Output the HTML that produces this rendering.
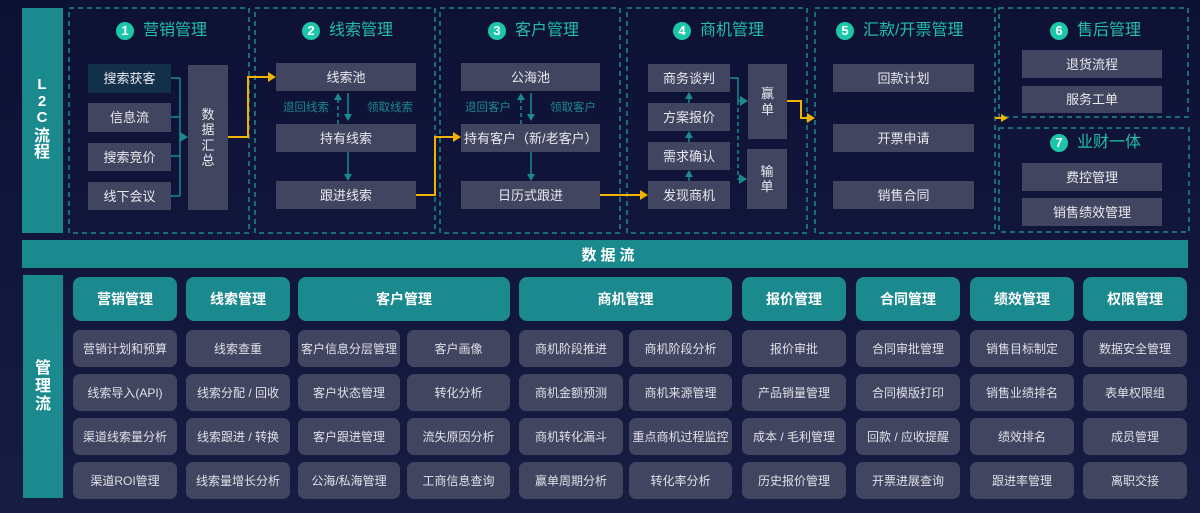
<!DOCTYPE html>
<html><head><meta charset="utf-8">
<style>
*{margin:0;padding:0;box-sizing:border-box}
html,body{width:1200px;height:513px;overflow:hidden}
body{background:linear-gradient(180deg,#0d1134 0%,#11163b 50%,#171c43 100%);font-family:"Liberation Sans","Noto Sans CJK SC",sans-serif;position:relative}
.a{position:absolute}
.b{position:absolute;background:#42455f;color:#e8e8f0;font-size:13px;display:flex;align-items:center;justify-content:center;line-height:1}
.sel{background:#13304a}
.v{flex-direction:column}
.v span{display:block;height:15.5px;line-height:15.5px}
.h{position:absolute;display:flex;align-items:center;height:20px;color:#23bfae;font-size:16px;line-height:1}
.h i{font-style:normal;display:inline-block;width:18px;height:18px;border-radius:50%;background:#1cc6a8;color:#fff;font-weight:bold;font-size:13px;text-align:center;line-height:18px;margin-right:9px;font-family:"Liberation Sans",sans-serif}
.lbl{position:absolute;color:#1b8a8d;font-size:11.5px;line-height:1}
.bar{position:absolute;background:#1b8a8f;color:#fff;font-weight:bold}
.hd{position:absolute;top:277px;height:44px;background:#1b8a8f;border-radius:8px;color:#fff;font-weight:bold;font-size:14px;display:flex;align-items:center;justify-content:center}
.c{position:absolute;height:37px;background:#42455f;border-radius:7px;color:#dfe0ea;font-size:12px;display:flex;align-items:center;justify-content:center;white-space:nowrap}
.vc{position:absolute;color:#fff;font-weight:bold;font-size:16px;width:40px;text-align:center;line-height:1}
</style></head><body>

<svg class="a" style="left:0;top:0" width="1200" height="513">
<g fill="none" stroke="#1b8a8f" stroke-width="1.5" stroke-dasharray="5,4">
<rect x="69" y="8" width="180" height="225"/>
<rect x="255" y="8" width="180" height="225"/>
<rect x="440" y="8" width="180" height="225"/>
<rect x="627" y="8" width="180" height="225"/>
<rect x="815" y="8" width="180" height="225"/>
<rect x="999" y="8" width="189" height="109"/>
<rect x="999" y="128" width="190" height="104"/>
</g>
<!-- section1 teal connectors -->
<g fill="none" stroke="#1b8a8f" stroke-width="1.5">
<path d="M171 78H180M171 117H180M171 156H180M171 196H180M180 78V196"/>
<path d="M348 93V114M348 152V174M531 93V114M531 152V174"/>
<path d="M689 181V176M689 142V137M689 103V98"/>
<path d="M730 78H738V101H741"/>
</g>
<g fill="none" stroke="#1b8a8f" stroke-width="1.5" stroke-dasharray="4,3">
<path d="M338 124V100M521 124V100"/>
<path d="M738 101V179H741"/>
</g>
<g fill="#1b8a8f">
<polygon points="180,132 188,137 180,142"/>
<polygon points="334,100 338,93 342,100"/>
<polygon points="344,114 348,121 352,114"/>
<polygon points="344,174 348,181 352,174"/>
<polygon points="517,100 521,93 525,100"/>
<polygon points="527,114 531,121 535,114"/>
<polygon points="527,174 531,181 535,174"/>
<polygon points="685,177 689,170 693,177"/>
<polygon points="685,138 689,131 693,138"/>
<polygon points="685,99 689,92 693,99"/>
<polygon points="740,96 748,101 740,106"/>
<polygon points="739,174 747,179 739,184"/>
</g>
<g fill="none" stroke="#f0b400" stroke-width="2">
<path d="M228 137H248V77H268"/>
<path d="M416 195H435V137H453"/>
<path d="M600 195H640"/>
<path d="M787 101H801V118H807"/>
<path d="M995 118H1001"/>
</g>
<g fill="#f0b400">
<polygon points="268,72 276,77 268,82"/>
<polygon points="453,132 461,137 453,142"/>
<polygon points="640,190 648,195 640,200"/>
<polygon points="807,113 815,118 807,123"/>
<polygon points="1001,114 1008,118 1001,122"/>
</g>
</svg>

<!-- L2C bar -->
<div class="bar" style="left:22px;top:8px;width:41px;height:225px"></div>
<div class="vc" style="left:22px;top:77px;font-size:15px">L</div>
<div class="vc" style="left:22px;top:94px;font-size:15px">2</div>
<div class="vc" style="left:22px;top:110px;font-size:15px">C</div>
<div class="vc" style="left:22px;top:129px">流</div>
<div class="vc" style="left:22px;top:145px">程</div>

<!-- headings -->
<div class="h" style="left:116px;top:21px"><i>1</i>营销管理</div>
<div class="h" style="left:302px;top:21px"><i>2</i>线索管理</div>
<div class="h" style="left:488px;top:21px"><i>3</i>客户管理</div>
<div class="h" style="left:673px;top:21px"><i>4</i>商机管理</div>
<div class="h" style="left:836px;top:21px"><i>5</i>汇款/开票管理</div>
<div class="h" style="left:1050px;top:21px"><i>6</i>售后管理</div>
<div class="h" style="left:1050px;top:133px"><i>7</i>业财一体</div>

<!-- section 1 -->
<div class="b sel" style="left:88px;top:64px;width:83px;height:29px">搜索获客</div>
<div class="b" style="left:88px;top:103px;width:83px;height:29px">信息流</div>
<div class="b" style="left:88px;top:143px;width:83px;height:28px">搜索竞价</div>
<div class="b" style="left:88px;top:182px;width:83px;height:28px">线下会议</div>
<div class="b v" style="left:188px;top:65px;width:40px;height:145px"><span>数</span><span>据</span><span>汇</span><span>总</span></div>

<!-- section 2 -->
<div class="b" style="left:276px;top:63px;width:140px;height:28px">线索池</div>
<div class="b" style="left:276px;top:124px;width:140px;height:28px">持有线索</div>
<div class="b" style="left:276px;top:181px;width:140px;height:28px">跟进线索</div>
<div class="lbl" style="left:283px;top:103px">退回线索</div>
<div class="lbl" style="left:367px;top:103px">领取线索</div>

<!-- section 3 -->
<div class="b" style="left:461px;top:63px;width:139px;height:28px">公海池</div>
<div class="b" style="left:461px;top:124px;width:139px;height:28px;justify-content:flex-start;padding-left:3px;white-space:nowrap">持有客户（新/老客户）</div>
<div class="b" style="left:461px;top:181px;width:139px;height:28px">日历式跟进</div>
<div class="lbl" style="left:465px;top:103px">退回客户</div>
<div class="lbl" style="left:550px;top:103px">领取客户</div>

<!-- section 4 -->
<div class="b" style="left:648px;top:64px;width:82px;height:28px">商务谈判</div>
<div class="b" style="left:648px;top:103px;width:82px;height:28px">方案报价</div>
<div class="b" style="left:648px;top:142px;width:82px;height:28px">需求确认</div>
<div class="b" style="left:648px;top:181px;width:82px;height:28px">发现商机</div>
<div class="b v" style="left:748px;top:64px;width:39px;height:75px"><span>赢</span><span>单</span></div>
<div class="b v" style="left:747px;top:149px;width:40px;height:60px"><span>输</span><span>单</span></div>

<!-- section 5 -->
<div class="b" style="left:833px;top:64px;width:141px;height:28px">回款计划</div>
<div class="b" style="left:833px;top:124px;width:141px;height:28px">开票申请</div>
<div class="b" style="left:833px;top:181px;width:141px;height:28px">销售合同</div>

<!-- section 6/7 -->
<div class="b" style="left:1022px;top:50px;width:140px;height:28px">退货流程</div>
<div class="b" style="left:1022px;top:86px;width:140px;height:27px">服务工单</div>
<div class="b" style="left:1022px;top:163px;width:140px;height:28px">费控管理</div>
<div class="b" style="left:1022px;top:198px;width:140px;height:28px">销售绩效管理</div>

<!-- data flow bar -->
<div class="bar" style="left:22px;top:240px;width:1166px;height:28px;display:flex;align-items:center;justify-content:center;font-size:15px;letter-spacing:4px;padding-left:10px">数据流</div>

<!-- management bar -->
<div class="bar" style="left:23px;top:275px;width:40px;height:223px"></div>
<div class="vc" style="left:23px;top:361px">管</div>
<div class="vc" style="left:23px;top:379px">理</div>
<div class="vc" style="left:23px;top:397px">流</div>

<!-- headers -->
<div class="hd" style="left:73px;width:104px">营销管理</div>
<div class="hd" style="left:186px;width:104px">线索管理</div>
<div class="hd" style="left:298px;width:212px">客户管理</div>
<div class="hd" style="left:519px;width:213px">商机管理</div>
<div class="hd" style="left:742px;width:104px">报价管理</div>
<div class="hd" style="left:856px;width:104px">合同管理</div>
<div class="hd" style="left:970px;width:104px">绩效管理</div>
<div class="hd" style="left:1083px;width:104px">权限管理</div>

<!-- row 1 -->
<div class="c" style="left:73px;top:330px;width:104px">营销计划和预算</div>
<div class="c" style="left:186px;top:330px;width:104px">线索查重</div>
<div class="c" style="left:298px;top:330px;width:102px">客户信息分层管理</div>
<div class="c" style="left:407px;top:330px;width:103px">客户画像</div>
<div class="c" style="left:519px;top:330px;width:104px">商机阶段推进</div>
<div class="c" style="left:629px;top:330px;width:103px">商机阶段分析</div>
<div class="c" style="left:742px;top:330px;width:104px">报价审批</div>
<div class="c" style="left:856px;top:330px;width:104px">合同审批管理</div>
<div class="c" style="left:970px;top:330px;width:104px">销售目标制定</div>
<div class="c" style="left:1083px;top:330px;width:104px">数据安全管理</div>

<!-- row 2 -->
<div class="c" style="left:73px;top:374px;width:104px">线索导入(API)</div>
<div class="c" style="left:186px;top:374px;width:104px">线索分配 / 回收</div>
<div class="c" style="left:298px;top:374px;width:102px">客户状态管理</div>
<div class="c" style="left:407px;top:374px;width:103px">转化分析</div>
<div class="c" style="left:519px;top:374px;width:104px">商机金额预测</div>
<div class="c" style="left:629px;top:374px;width:103px">商机来源管理</div>
<div class="c" style="left:742px;top:374px;width:104px">产品销量管理</div>
<div class="c" style="left:856px;top:374px;width:104px">合同模版打印</div>
<div class="c" style="left:970px;top:374px;width:104px">销售业绩排名</div>
<div class="c" style="left:1083px;top:374px;width:104px">表单权限组</div>

<!-- row 3 -->
<div class="c" style="left:73px;top:418px;width:104px">渠道线索量分析</div>
<div class="c" style="left:186px;top:418px;width:104px">线索跟进 / 转换</div>
<div class="c" style="left:298px;top:418px;width:102px">客户跟进管理</div>
<div class="c" style="left:407px;top:418px;width:103px">流失原因分析</div>
<div class="c" style="left:519px;top:418px;width:104px">商机转化漏斗</div>
<div class="c" style="left:629px;top:418px;width:103px">重点商机过程监控</div>
<div class="c" style="left:742px;top:418px;width:104px">成本 / 毛利管理</div>
<div class="c" style="left:856px;top:418px;width:104px">回款 / 应收提醒</div>
<div class="c" style="left:970px;top:418px;width:104px">绩效排名</div>
<div class="c" style="left:1083px;top:418px;width:104px">成员管理</div>

<!-- row 4 -->
<div class="c" style="left:73px;top:462px;width:104px">渠道ROI管理</div>
<div class="c" style="left:186px;top:462px;width:104px">线索量增长分析</div>
<div class="c" style="left:298px;top:462px;width:102px">公海/私海管理</div>
<div class="c" style="left:407px;top:462px;width:103px">工商信息查询</div>
<div class="c" style="left:519px;top:462px;width:104px">赢单周期分析</div>
<div class="c" style="left:629px;top:462px;width:103px">转化率分析</div>
<div class="c" style="left:742px;top:462px;width:104px">历史报价管理</div>
<div class="c" style="left:856px;top:462px;width:104px">开票进展查询</div>
<div class="c" style="left:970px;top:462px;width:104px">跟进率管理</div>
<div class="c" style="left:1083px;top:462px;width:104px">离职交接</div>

</body></html>
